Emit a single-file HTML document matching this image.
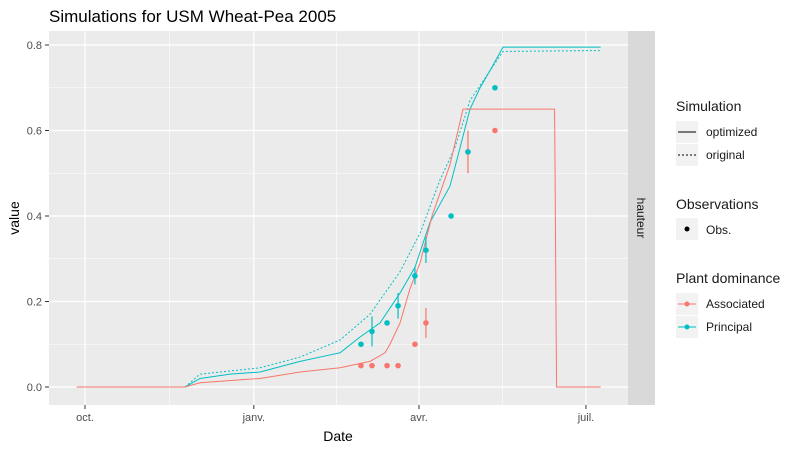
<!DOCTYPE html>
<html><head><meta charset="utf-8"><style>
body{margin:0;background:#fff;font-family:"Liberation Sans",Arial,sans-serif}
svg text{font-family:"Liberation Sans",Arial,sans-serif}
</style></head><body>
<svg id="c" width="800" height="450" xmlns="http://www.w3.org/2000/svg">
<text x="49" y="22" font-size="17" fill="#000">Simulations for USM Wheat-Pea 2005</text>
<rect x="49" y="31" width="579" height="374" fill="#ebebeb"/>
<rect x="628" y="31" width="27" height="374" fill="#d9d9d9"/>
<text transform="translate(637,218) rotate(90)" font-size="12" fill="#1a1a1a" text-anchor="middle">hauteur</text>
<g id="grid"></g><g id="series"></g><g id="axes"></g>
<text x="338" y="441" font-size="14" text-anchor="middle">Date</text>
<text transform="translate(19,218) rotate(-90)" font-size="14" text-anchor="middle">value</text>
<g font-size="12" fill="#1a1a1a">
<text x="676" y="111" font-size="14">Simulation</text>
<rect x="676" y="121" width="22" height="22" fill="#f2f2f2"/><line x1="678" y1="132" x2="696" y2="132" stroke="#000"/>
<text x="706" y="136">optimized</text>
<rect x="676" y="144" width="22" height="22" fill="#f2f2f2"/><line x1="678" y1="155" x2="696" y2="155" stroke="#000" stroke-dasharray="2,2"/>
<text x="706" y="159">original</text>
<text x="676" y="209" font-size="14">Observations</text>
<rect x="676" y="218" width="22" height="22" fill="#f2f2f2"/><circle cx="687" cy="229" r="2.5" fill="#000"/>
<text x="706" y="234">Obs.</text>
<text x="676" y="283" font-size="14">Plant dominance</text>
<rect x="676" y="293" width="22" height="22" fill="#f2f2f2"/><line x1="678" y1="304" x2="696" y2="304" stroke="#F8766D"/><circle cx="687" cy="304" r="2.5" fill="#F8766D"/>
<text x="706" y="308">Associated</text>
<rect x="676" y="316" width="22" height="22" fill="#f2f2f2"/><line x1="678" y1="327" x2="696" y2="327" stroke="#00BFC4"/><circle cx="687" cy="327" r="2.5" fill="#00BFC4"/>
<text x="706" y="331">Principal</text>
</g>
</svg>
<script>
// days since 1 Oct 2005
const xTickDays=[0,92,182,273];
const xTickLabels=["oct.","janv.","avr.","juil."];
const yTicks=[0,0.2,0.4,0.6,0.8];
const yTickLabels=["0.0","0.2","0.4","0.6","0.8"];
const princOptDays=[-4.4,54.5,62.7,79,95.4,117.2,133.5,139,149.9,160.8,171.7,179.8,188,198.9,204.4,209.8,215.3,220.7,227.8,281];
const princOptVals=[0,0,0.02,0.03,0.035,0.06,0.075,0.08,0.117,0.15,0.22,0.28,0.385,0.47,0.56,0.65,0.70,0.74,0.795,0.795];
const princOrigDays=[-4.4,54.5,62.7,95.4,117.2,139,155.3,171.7,182.6,193.5,201.6,209.8,220.7,227.8,281];
const princOrigVals=[0,0,0.03,0.045,0.07,0.11,0.17,0.27,0.36,0.485,0.56,0.67,0.74,0.785,0.787];
const assocDays=[-4.4,54.5,62.7,95.4,117.2,139,155.3,163.5,166.2,171.7,177.1,182.6,189.1,198.9,206,255.9,256.2,256.7,257,281];
const assocVals=[0,0,0.01,0.02,0.035,0.045,0.06,0.08,0.10,0.15,0.23,0.29,0.40,0.52,0.65,0.65,0.49,0.16,0,0];
const obsPrincDays=[150.4,156.4,164.6,170.6,179.8,185.8,199.5,208.7,223.4];
const obsPrincVals=[0.10,0.13,0.15,0.19,0.26,0.32,0.40,0.55,0.70];
const obsPrincErr=[0,0.035,0,0.03,0.02,0.03,0,0,0];
const obsAssocDays=[150.4,156.4,164.6,170.6,179.8,185.8,208.7,223.4];
const obsAssocVals=[0.05,0.05,0.05,0.05,0.10,0.15,0.55,0.60];
const obsAssocErr=[0,0,0,0,0,0.035,0.05,0];
const NS="http://www.w3.org/2000/svg";
const X=d=>85+d*1.835, Y=v=>387-v*427.5;
function mk(t,a,p){const e=document.createElementNS(NS,t);for(const k in a)e.setAttribute(k,a[k]);p.appendChild(e);return e;}
const g=document.getElementById('grid'),s=document.getElementById('series'),ax=document.getElementById('axes');
for(let i=0;i<yTicks.length;i++){
 if(i<yTicks.length-1){const l=mk('line',{x1:49,x2:628,y1:Y(yTicks[i]+0.1),y2:Y(yTicks[i]+0.1),stroke:'#fff','stroke-width':0.6},g);
 }
 const l=mk('line',{x1:49,x2:628,y1:Y(yTicks[i]),y2:Y(yTicks[i]),stroke:'#fff','stroke-width':1.2},g);
 
 mk('line',{x1:45,x2:49,y1:Y(yTicks[i]),y2:Y(yTicks[i]),stroke:'#333'},ax);
 const t=mk('text',{x:42,y:Y(yTicks[i])+4,'font-size':11,fill:'#4d4d4d','text-anchor':'end'},ax);t.textContent=yTickLabels[i];
 
}
for(let i=0;i<xTickDays.length;i++){
 if(i<xTickDays.length-1){const m=(xTickDays[i]+xTickDays[i+1])/2;const l=mk('line',{x1:X(m),x2:X(m),y1:31,y2:405,stroke:'#fff','stroke-width':0.6},g);
 }
 const l=mk('line',{x1:X(xTickDays[i]),x2:X(xTickDays[i]),y1:31,y2:405,stroke:'#fff','stroke-width':1.2},g);
 
 mk('line',{x1:X(xTickDays[i]),x2:X(xTickDays[i]),y1:405,y2:409,stroke:'#333'},ax);
 const t=mk('text',{x:X(xTickDays[i]),y:421,'font-size':11,fill:'#4d4d4d','text-anchor':'middle'},ax);t.textContent=xTickLabels[i];
 
}
function line(ds,vs,col,dash,name){
 const p=mk('polyline',{points:ds.map((d,i)=>X(d)+','+Y(vs[i])).join(' '),fill:'none',stroke:col,'stroke-width':1,'stroke-dasharray':dash||'none'},s);
 
}
line(princOrigDays,princOrigVals,'#00BFC4','2,2','principal-original-line');
line(princOptDays,princOptVals,'#00BFC4','','principal-optimized-line');
line(assocDays,assocVals,'#F8766D','','associated-optimized-line');
function obs(ds,vs,es,col,name){
 for(let i=0;i<ds.length;i++){
  if(es[i]>0){const l=mk('line',{x1:X(ds[i]),x2:X(ds[i]),y1:Y(vs[i]-es[i]),y2:Y(vs[i]+es[i]),stroke:col,'stroke-width':1.2},s);
   }
  const c=mk('circle',{cx:X(ds[i]),cy:Y(vs[i]),r:2.8,fill:col},s);
  
 }
}
obs(obsAssocDays,obsAssocVals,obsAssocErr,'#F8766D','associated-obs');
obs(obsPrincDays,obsPrincVals,obsPrincErr,'#00BFC4','principal-obs');
</script>
</body></html>
